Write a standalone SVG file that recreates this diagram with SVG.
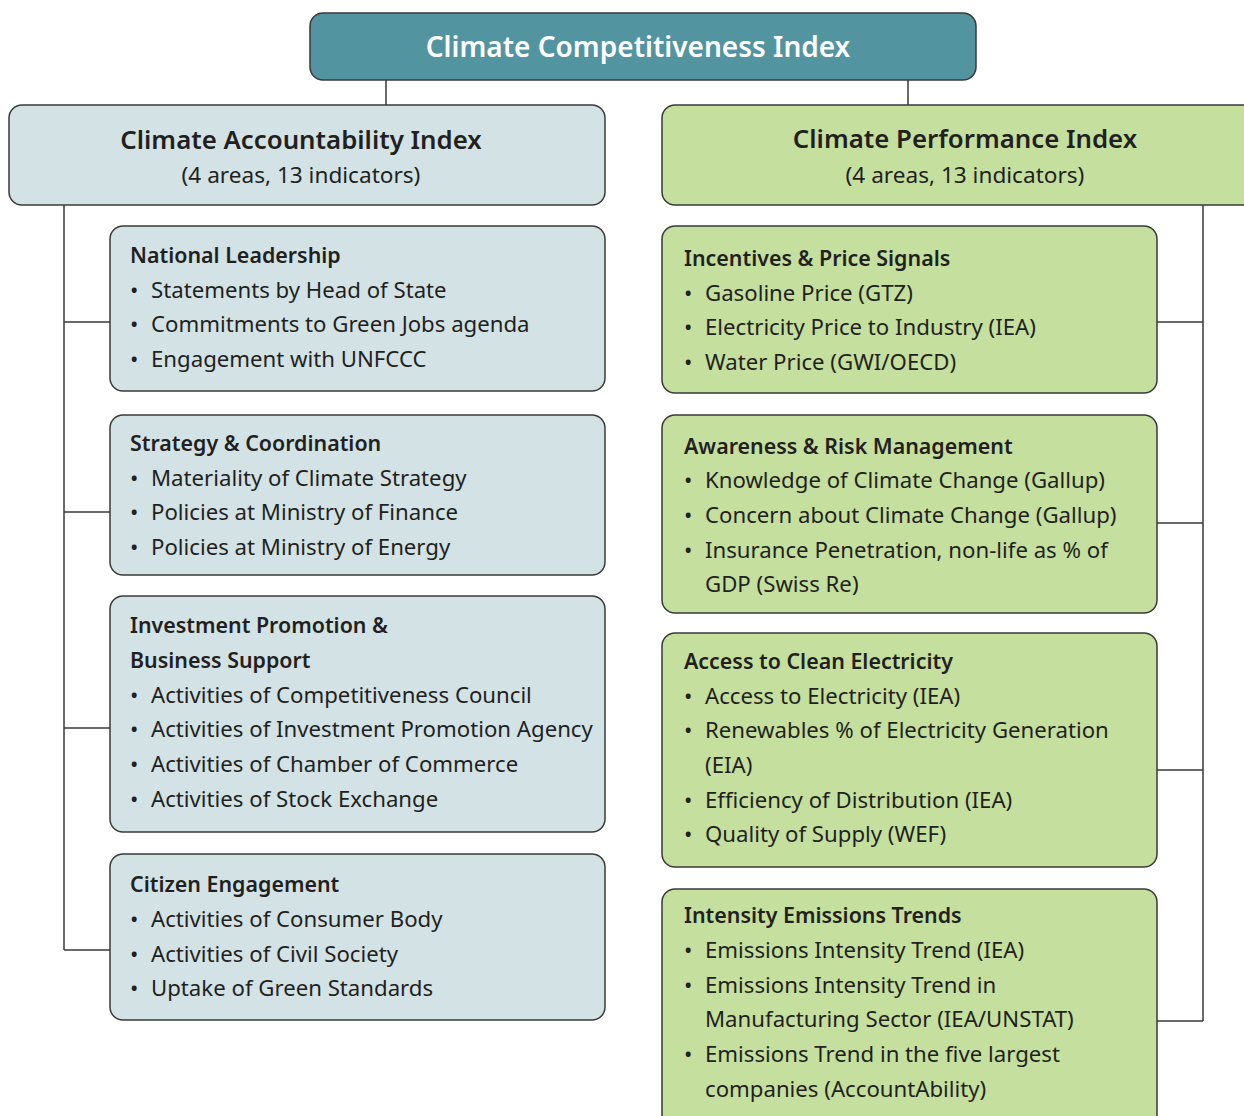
<svg xmlns="http://www.w3.org/2000/svg" width="1244" height="1116" viewBox="0 0 1244 1116">
<style>
text{font-family:"Noto Sans","Liberation Sans",sans-serif;fill:#231f20}
.top{fill:#5294a0;stroke:#3a3a3a;stroke-width:1.5}
.blue{fill:#d3e3e5;stroke:#3a3a3a;stroke-width:1.5}
.green{fill:#c5df9e;stroke:#3a3a3a;stroke-width:1.5}
.conn{fill:none;stroke:#3a3a3a;stroke-width:1.5}
.t0{font-size:28px;font-weight:600;fill:#fff}
.t1{font-size:25.8px;font-weight:600}
.t2{font-size:22.6px}
.h{font-size:21.4px;font-weight:600}
.b{font-size:22.2px}
</style>
<g id="connectors">
<path class="conn" d="M386 80V105M908 80V105"/>
<path class="conn" d="M64 205V950M64 322H110M64 512H110M64 728H110M64 950H110"/>
<path class="conn" d="M1203 205V1021M1157 322H1203M1157 523H1203M1157 770H1203M1157 1021H1203"/>
</g>
<g id="cci">
<rect class="top" x="310" y="13" width="666" height="67" rx="13"/>
<text class="t0" x="638" y="57" text-anchor="middle">Climate Competitiveness Index</text>
</g>
<g id="cai">
<rect class="blue" x="9" y="105" width="596" height="100" rx="13"/>
<text class="t1" x="301" y="149" text-anchor="middle">Climate Accountability Index</text>
<text class="t2" x="301" y="183" text-anchor="middle">(4 areas, 13 indicators)</text>
</g>
<g id="cpi">
<rect class="green" x="662" y="105" width="600" height="100" rx="13"/>
<text class="t1" x="965" y="148" text-anchor="middle">Climate Performance Index</text>
<text class="t2" x="965" y="183" text-anchor="middle">(4 areas, 13 indicators)</text>
</g>
<g id="national-leadership">
<rect class="blue" x="110" y="226" width="495" height="165" rx="13"/>
<text class="h" x="130" y="263">National Leadership</text>
<text class="b" x="130" y="298">•<tspan x="151">Statements by Head of State</tspan></text>
<text class="b" x="130" y="332">•<tspan x="151">Commitments to Green Jobs agenda</tspan></text>
<text class="b" x="130" y="367">•<tspan x="151">Engagement with UNFCCC</tspan></text>
</g>
<g id="strategy-coordination">
<rect class="blue" x="110" y="415" width="495" height="160" rx="13"/>
<text class="h" x="130" y="451">Strategy &amp; Coordination</text>
<text class="b" x="130" y="486">•<tspan x="151">Materiality of Climate Strategy</tspan></text>
<text class="b" x="130" y="520">•<tspan x="151">Policies at Ministry of Finance</tspan></text>
<text class="b" x="130" y="555">•<tspan x="151">Policies at Ministry of Energy</tspan></text>
</g>
<g id="investment-promotion">
<rect class="blue" x="110" y="596" width="495" height="236" rx="13"/>
<text class="h" x="130" y="633">Investment Promotion &amp;</text>
<text class="h" x="130" y="668">Business Support</text>
<text class="b" x="130" y="703">•<tspan x="151">Activities of Competitiveness Council</tspan></text>
<text class="b" x="130" y="737">•<tspan x="151">Activities of Investment Promotion Agency</tspan></text>
<text class="b" x="130" y="772">•<tspan x="151">Activities of Chamber of Commerce</tspan></text>
<text class="b" x="130" y="807">•<tspan x="151">Activities of Stock Exchange</tspan></text>
</g>
<g id="citizen-engagement">
<rect class="blue" x="110" y="854" width="495" height="166" rx="13"/>
<text class="h" x="130" y="892">Citizen Engagement</text>
<text class="b" x="130" y="927">•<tspan x="151">Activities of Consumer Body</tspan></text>
<text class="b" x="130" y="962">•<tspan x="151">Activities of Civil Society</tspan></text>
<text class="b" x="130" y="996">•<tspan x="151">Uptake of Green Standards</tspan></text>
</g>
<g id="incentives">
<rect class="green" x="662" y="226" width="495" height="167" rx="13"/>
<text class="h" x="684" y="266">Incentives &amp; Price Signals</text>
<text class="b" x="684" y="301">•<tspan x="705">Gasoline Price (GTZ)</tspan></text>
<text class="b" x="684" y="335">•<tspan x="705">Electricity Price to Industry (IEA)</tspan></text>
<text class="b" x="684" y="370">•<tspan x="705">Water Price (GWI/OECD)</tspan></text>
</g>
<g id="awareness">
<rect class="green" x="662" y="415" width="495" height="198" rx="13"/>
<text class="h" x="684" y="454">Awareness &amp; Risk Management</text>
<text class="b" x="684" y="488">•<tspan x="705">Knowledge of Climate Change (Gallup)</tspan></text>
<text class="b" x="684" y="523">•<tspan x="705">Concern about Climate Change (Gallup)</tspan></text>
<text class="b" x="684" y="558">•<tspan x="705">Insurance Penetration, non-life as % of</tspan></text>
<text class="b" x="705" y="592">GDP (Swiss Re)</text>
</g>
<g id="clean-electricity">
<rect class="green" x="662" y="633" width="495" height="234" rx="13"/>
<text class="h" x="684" y="669">Access to Clean Electricity</text>
<text class="b" x="684" y="704">•<tspan x="705">Access to Electricity (IEA)</tspan></text>
<text class="b" x="684" y="738">•<tspan x="705">Renewables % of Electricity Generation</tspan></text>
<text class="b" x="705" y="773">(EIA)</text>
<text class="b" x="684" y="808">•<tspan x="705">Efficiency of Distribution (IEA)</tspan></text>
<text class="b" x="684" y="842">•<tspan x="705">Quality of Supply (WEF)</tspan></text>
</g>
<g id="intensity-emissions">
<rect class="green" x="662" y="889" width="495" height="240" rx="13"/>
<text class="h" x="684" y="923">Intensity Emissions Trends</text>
<text class="b" x="684" y="958">•<tspan x="705">Emissions Intensity Trend (IEA)</tspan></text>
<text class="b" x="684" y="993">•<tspan x="705">Emissions Intensity Trend in</tspan></text>
<text class="b" x="705" y="1027">Manufacturing Sector (IEA/UNSTAT)</text>
<text class="b" x="684" y="1062">•<tspan x="705">Emissions Trend in the five largest</tspan></text>
<text class="b" x="705" y="1097">companies (AccountAbility)</text>
</g>
</svg>
